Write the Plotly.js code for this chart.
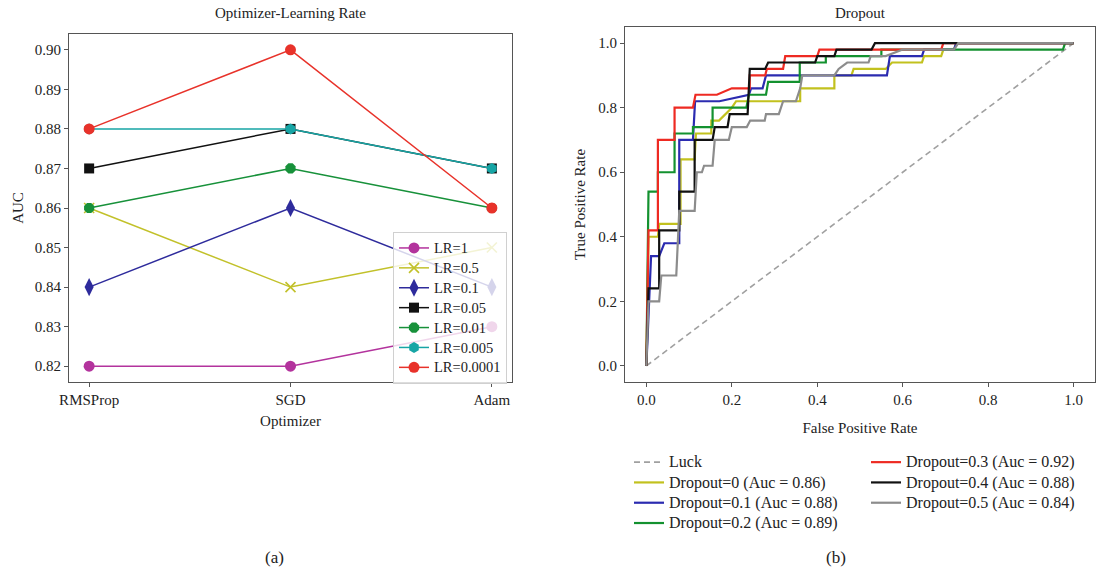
<!DOCTYPE html>
<html>
<head>
<meta charset="utf-8">
<script src="https://cdn.plot.ly/plotly-3.0.1.min.js"></script>
<style>html,body{margin:0;padding:0;background:#fff;}#chart{width:1098px;height:573px;}</style>
</head>
<body>
<div id="chart"></div>
<script>
// ---- Panel (a): Optimizer vs Learning rate ----
const optimizers = ['RMSProp', 'SGD', 'Adam'];
const lrNames = ['LR=1', 'LR=0.5', 'LR=0.1', 'LR=0.05', 'LR=0.01', 'LR=0.005', 'LR=0.0001'];
const aucLR1 = [0.82, 0.82, 0.83];
const aucLR05 = [0.86, 0.84, 0.85];
const aucLR01 = [0.84, 0.86, 0.84];
const aucLR005 = [0.87, 0.88, 0.87];
const aucLR001 = [0.86, 0.87, 0.86];
const aucLR0005 = [0.88, 0.88, 0.87];
const aucLR00001 = [0.88, 0.90, 0.86];

// ---- Panel (b): ROC curves for dropout ----
const rocNames = ['Luck', 'Dropout=0 (Auc = 0.86)', 'Dropout=0.1 (Auc = 0.88)', 'Dropout=0.2 (Auc = 0.89)',
                  'Dropout=0.3 (Auc = 0.92)', 'Dropout=0.4 (Auc = 0.88)', 'Dropout=0.5 (Auc = 0.84)'];
const fprLuck = [0, 1];
const tprLuck = [0, 1];
const fprD0 = [0, 0.005, 0.027, 0.03, 0.08, 0.08, 0.113, 0.116, 0.152, 0.152, 0.17, 0.20, 0.21, 0.36, 0.36, 0.44, 0.44, 0.48, 0.485, 0.56, 0.575, 0.645, 0.65, 0.69, 0.695, 0.72, 0.725, 1.0];
const tprD0 = [0, 0.40, 0.40, 0.44, 0.44, 0.64, 0.64, 0.72, 0.72, 0.76, 0.76, 0.80, 0.82, 0.82, 0.86, 0.86, 0.90, 0.90, 0.92, 0.92, 0.94, 0.94, 0.96, 0.96, 0.98, 0.98, 1.0, 1.0];
const fprD01 = [0, 0.011, 0.03, 0.042, 0.077, 0.077, 0.109, 0.114, 0.171, 0.22, 0.24, 0.245, 0.272, 0.28, 0.563, 0.57, 0.645, 0.65, 0.72, 0.725, 1.0];
const tprD01 = [0, 0.34, 0.34, 0.38, 0.38, 0.70, 0.70, 0.82, 0.82, 0.835, 0.84, 0.86, 0.86, 0.90, 0.90, 0.96, 0.96, 0.98, 0.98, 1.0, 1.0];
const fprD02 = [0, 0.005, 0.027, 0.027, 0.066, 0.066, 0.109, 0.109, 0.155, 0.155, 0.234, 0.24, 0.28, 0.285, 0.359, 0.359, 0.42, 0.42, 0.55, 0.55, 0.975, 0.98, 1.0];
const tprD02 = [0, 0.54, 0.54, 0.60, 0.60, 0.72, 0.72, 0.74, 0.74, 0.80, 0.80, 0.84, 0.84, 0.88, 0.88, 0.94, 0.94, 0.96, 0.96, 0.98, 0.98, 1.0, 1.0];
const fprD03 = [0, 0.005, 0.027, 0.027, 0.066, 0.066, 0.109, 0.115, 0.165, 0.20, 0.242, 0.242, 0.278, 0.282, 0.32, 0.325, 0.40, 0.405, 0.69, 0.695, 1.0];
const tprD03 = [0, 0.42, 0.42, 0.70, 0.70, 0.80, 0.80, 0.84, 0.84, 0.86, 0.86, 0.90, 0.90, 0.92, 0.92, 0.96, 0.96, 0.98, 0.98, 1.0, 1.0];
const fprD04 = [0, 0.005, 0.03, 0.03, 0.077, 0.077, 0.113, 0.113, 0.155, 0.16, 0.19, 0.195, 0.237, 0.242, 0.278, 0.285, 0.395, 0.40, 0.44, 0.445, 0.527, 0.535, 1.0];
const tprD04 = [0, 0.24, 0.24, 0.42, 0.42, 0.54, 0.54, 0.70, 0.70, 0.74, 0.74, 0.78, 0.78, 0.92, 0.92, 0.94, 0.94, 0.96, 0.96, 0.98, 0.98, 1.0, 1.0];
const fprD05 = [0, 0.005, 0.03, 0.035, 0.07, 0.077, 0.113, 0.118, 0.13, 0.135, 0.155, 0.16, 0.193, 0.2, 0.235, 0.243, 0.277, 0.28, 0.31, 0.32, 0.35, 0.36, 0.365, 0.44, 0.45, 0.47, 0.52, 0.525, 0.56, 0.60, 0.72, 0.73, 1.0];
const tprD05 = [0, 0.20, 0.20, 0.28, 0.28, 0.48, 0.48, 0.60, 0.60, 0.62, 0.62, 0.70, 0.70, 0.74, 0.74, 0.76, 0.76, 0.78, 0.78, 0.82, 0.82, 0.86, 0.90, 0.90, 0.92, 0.94, 0.94, 0.96, 0.96, 0.98, 0.98, 1.0, 1.0];

const serif = 'Liberation Serif, DejaVu Serif, serif';

const lrSeries = [aucLR1, aucLR05, aucLR01, aucLR005, aucLR001, aucLR0005, aucLR00001];
const lrColors = ['#b3339d', '#c2c12a', '#2e2b9c', '#111111', '#17913a', '#17a5a5', '#e8322a'];
const lrSymbols = ['circle', 'x-thin', 'diamond-tall', 'square', 'octagon', 'hexagon', 'circle'];
const lrSizes = [11, 10, 13, 10, 11, 11, 11];

function sized(txt, px) { return '<span style="font-size:' + px + 'px">' + txt + '</span>'; }

const traces = [];
lrSeries.forEach((vals, i) => {
  traces.push({
    type: 'scatter', mode: 'lines+markers',
    x: optimizers, y: vals, name: sized(lrNames[i], 14.5),
    xaxis: 'x', yaxis: 'y', legend: 'legend',
    line: {color: lrColors[i], width: 1.5},
    marker: {symbol: lrSymbols[i], size: lrSizes[i], color: lrColors[i],
             line: {color: lrColors[i], width: lrSymbols[i] === 'x-thin' ? 1.6 : 0}}
  });
});

const rocX = [fprLuck, fprD0, fprD01, fprD02, fprD03, fprD04, fprD05];
const rocY = [tprLuck, tprD0, tprD01, tprD02, tprD03, tprD04, tprD05];
const rocColors = ['#a0a0a0', '#c2c11e', '#2b2bb0', '#13912f', '#ee2a22', '#111111', '#8c8c8c'];
const rocLegend = ['legend2', 'legend2', 'legend2', 'legend2', 'legend3', 'legend3', 'legend3'];
rocX.forEach((xs, i) => {
  traces.push({
    type: 'scatter', mode: 'lines',
    x: xs, y: rocY[i], name: sized(rocNames[i], 16),
    xaxis: 'x2', yaxis: 'y2', legend: rocLegend[i],
    line: i === 0 ? {color: rocColors[i], width: 1.6, dash: '6px,4px'} : {color: rocColors[i], width: 2.2}
  });
});

const axisCommon = {
  showline: true, mirror: true, linecolor: '#555', linewidth: 1,
  ticks: 'outside', ticklen: 4, tickcolor: '#555', showgrid: false, zeroline: false,
  tickfont: {family: serif, size: 15, color: '#222'}
};

const layout = {
  width: 1098, height: 573,
  margin: {l: 0, r: 0, t: 0, b: 0},
  paper_bgcolor: '#fff', plot_bgcolor: '#fff',
  font: {family: serif, color: '#222'},
  xaxis: Object.assign({}, axisCommon, {
    domain: [69/1098, 512/1098], anchor: 'y', type: 'category', range: [-0.1, 2.1],
    title: {text: 'Optimizer', font: {family: serif, size: 15, color: '#222'}, standoff: 8}
  }),
  yaxis: Object.assign({}, axisCommon, {
    domain: [1 - 382/573, 1 - 34/573], anchor: 'x', range: [0.816, 0.904],
    tick0: 0.82, dtick: 0.01, tickformat: '.2f',
    title: {text: 'AUC', font: {family: serif, size: 15, color: '#222'}, standoff: 7}
  }),
  xaxis2: Object.assign({}, axisCommon, {
    domain: [625/1098, 1095/1098], anchor: 'y2', range: [-0.05, 1.05],
    tick0: 0, dtick: 0.2, tickformat: '.1f',
    title: {text: 'False Positive Rate', font: {family: serif, size: 15, color: '#222'}, standoff: 15}
  }),
  yaxis2: Object.assign({}, axisCommon, {
    domain: [1 - 382/573, 1 - 27/573], anchor: 'x2', range: [-0.05, 1.05],
    tick0: 0, dtick: 0.2, tickformat: '.1f',
    title: {text: 'True Positive Rate', font: {family: serif, size: 15, color: '#222'}, standoff: 9}
  }),
  legend: {
    x: 393/1098, y: 1 - 232/573, xanchor: 'left', yanchor: 'top',
    bgcolor: 'rgba(255,255,255,0.8)', bordercolor: '#d0d0d0', borderwidth: 1,
    font: {family: serif, size: 13, color: '#222'}, tracegroupgap: 0
  },
  legend2: {
    x: 629/1098, y: 1 - 447/573, xanchor: 'left', yanchor: 'top',
    bgcolor: 'rgba(0,0,0,0)', borderwidth: 0,
    font: {family: serif, size: 13.3, color: '#222'}
  },
  legend3: {
    x: 866/1098, y: 1 - 447/573, xanchor: 'left', yanchor: 'top',
    bgcolor: 'rgba(0,0,0,0)', borderwidth: 0,
    font: {family: serif, size: 13.3, color: '#222'}
  },
  showlegend: true,
  annotations: [
    {text: 'Optimizer-Learning Rate', x: 290/1098, y: 1 - 13/573, xref: 'paper', yref: 'paper',
     showarrow: false, xanchor: 'center', yanchor: 'middle', font: {family: serif, size: 15, color: '#222'}},
    {text: 'Dropout', x: 860/1098, y: 1 - 13/573, xref: 'paper', yref: 'paper',
     showarrow: false, xanchor: 'center', yanchor: 'middle', font: {family: serif, size: 15, color: '#222'}},
    {text: '(a)', x: 274/1098, y: 1 - 557/573, xref: 'paper', yref: 'paper',
     showarrow: false, xanchor: 'center', yanchor: 'middle', font: {family: serif, size: 17, color: '#222'}},
    {text: '(b)', x: 836/1098, y: 1 - 557/573, xref: 'paper', yref: 'paper',
     showarrow: false, xanchor: 'center', yanchor: 'middle', font: {family: serif, size: 17, color: '#222'}}
  ]
};

Plotly.newPlot('chart', traces, layout, {staticPlot: true, displayModeBar: false});
</script>
</body>
</html>
